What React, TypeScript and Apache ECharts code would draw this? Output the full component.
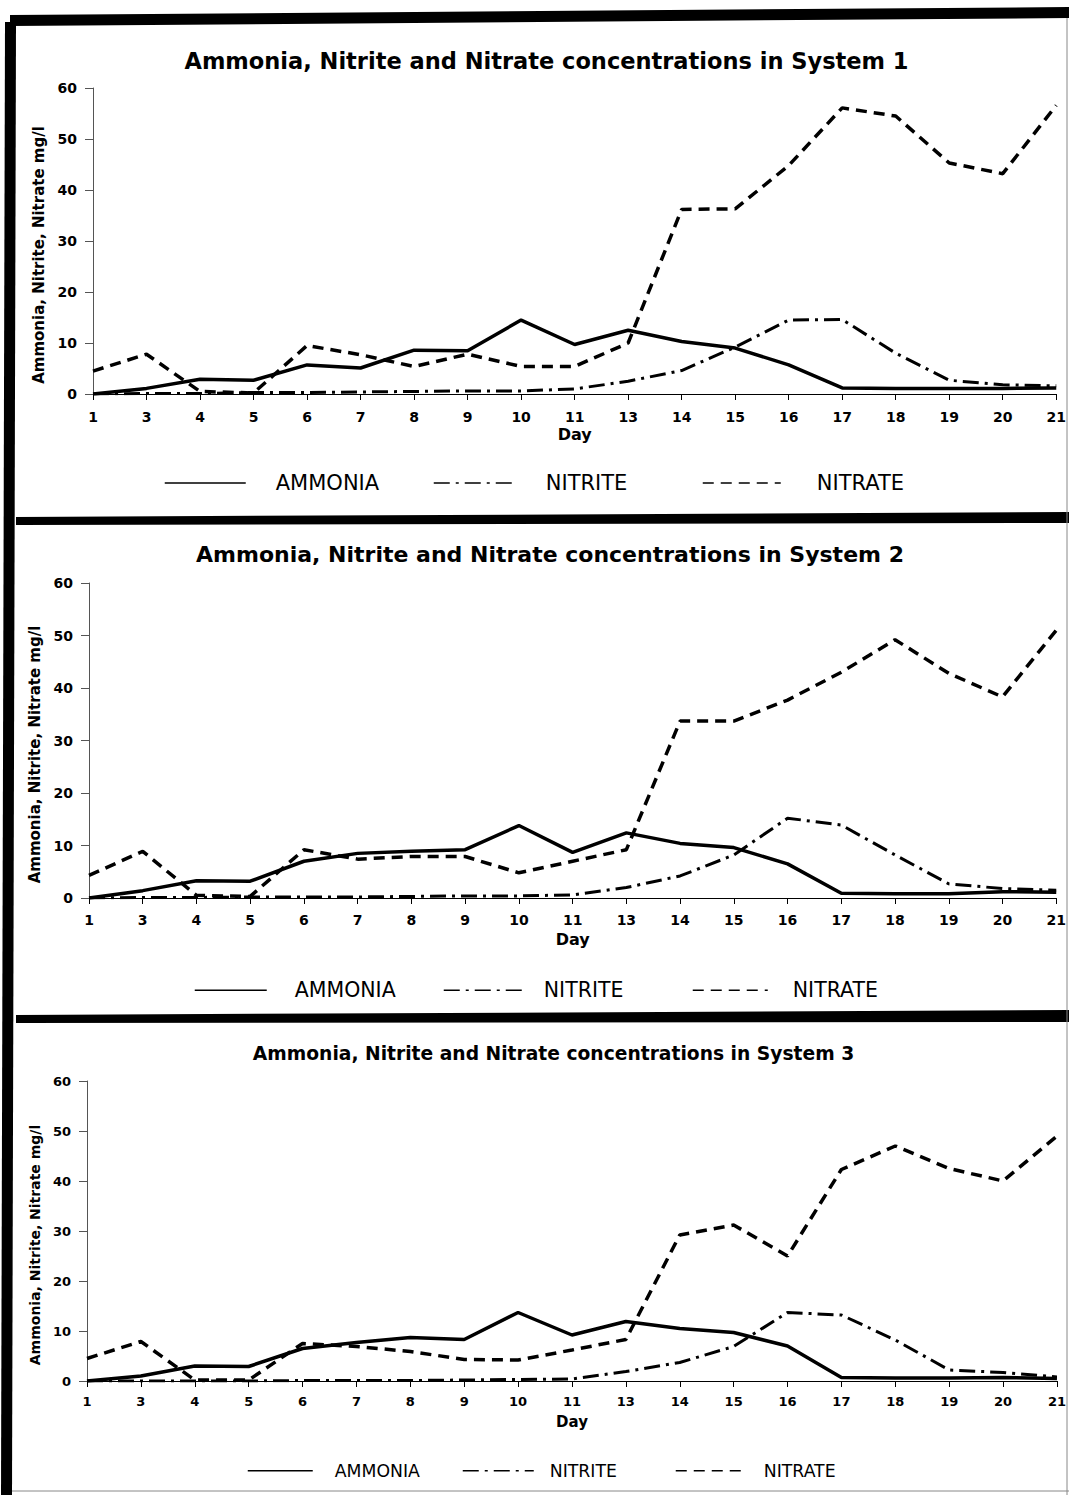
import { useEffect, useRef } from "react";
import * as echarts from "echarts";

// ---------- data ----------
const days = ["1", "3", "4", "5", "6", "7", "8", "9", "10", "11", "13", "14", "15", "16", "17", "18", "19", "20", "21"];
const seriesNames = ["AMMONIA", "NITRITE", "NITRATE"];
const chartTitles = [
  "Ammonia, Nitrite and Nitrate concentrations in System 1",
  "Ammonia, Nitrite and Nitrate concentrations in System 2",
  "Ammonia, Nitrite and Nitrate concentrations in System 3",
];
const yAxisTitle = "Ammonia, Nitrite, Nitrate mg/l";
const xAxisTitle = "Day";
const yMin = 0;
const yMax = 60;
const yStep = 10;

const ammonia1 = [0, 1.1, 2.9, 2.7, 5.7, 5.1, 8.6, 8.5, 14.5, 9.7, 12.5, 10.3, 9.0, 5.7, 1.2, 1.1, 1.1, 1.1, 1.2];
const nitrite1 = [0, 0.1, 0.1, 0.3, 0.3, 0.4, 0.5, 0.6, 0.6, 1.0, 2.5, 4.6, 9.2, 14.5, 14.6, 8.0, 2.7, 1.8, 1.6];
const nitrate1 = [4.5, 7.8, 0.5, 0.2, 9.5, 7.7, 5.4, 7.8, 5.4, 5.4, 10.0, 36.2, 36.3, 44.8, 56.1, 54.5, 45.3, 43.2, 56.6];

const ammonia2 = [0, 1.4, 3.3, 3.2, 7.0, 8.5, 8.9, 9.2, 13.8, 8.7, 12.4, 10.4, 9.6, 6.5, 0.9, 0.8, 0.8, 1.2, 1.1];
const nitrite2 = [0, 0.1, 0.1, 0.2, 0.2, 0.2, 0.3, 0.4, 0.4, 0.6, 2.0, 4.2, 8.2, 15.2, 13.9, 8.2, 2.7, 1.8, 1.5];
const nitrate2 = [4.3, 8.9, 0.5, 0.3, 9.2, 7.4, 7.9, 7.9, 4.8, 7.0, 9.2, 33.7, 33.7, 37.7, 43.0, 49.2, 42.8, 38.3, 51.0];

const ammonia3 = [0, 1.0, 3.0, 2.9, 6.5, 7.7, 8.7, 8.3, 13.7, 9.2, 11.9, 10.5, 9.7, 7.0, 0.7, 0.6, 0.6, 0.7, 0.5];
const nitrite3 = [0, 0, 0, 0, 0.1, 0.1, 0.1, 0.2, 0.3, 0.4, 1.9, 3.7, 6.9, 13.7, 13.2, 8.2, 2.2, 1.7, 0.8];
const nitrate3 = [4.5, 7.9, 0.2, 0.2, 7.5, 6.9, 5.9, 4.3, 4.2, 6.2, 8.3, 29.2, 31.2, 25.0, 42.3, 47.0, 42.5, 40.0, 49.0];

const systems = [
  [ammonia1, nitrite1, nitrate1],
  [ammonia2, nitrite2, nitrate2],
  [ammonia3, nitrite3, nitrate3],
];

// ---------- styles / layout ----------
const FONT = '"DejaVu Sans", Verdana, sans-serif';
const lineDash: any[] = ["solid", [16, 6, 3, 6], [11, 7]];
const lineWidth = [3.5, 3, 3.5];

const layouts = [
  {
    grid: { left: 93, top: 88, width: 972, height: 306 },
    title: { cx: 546.5, cy: 61, size: 22.5 },
    legendY: 485,
    legendFont: 21,
    legend: [
      { icon: [164, 245], text: 275 },
      { icon: [433, 515], text: 545 },
      { icon: [702, 780], text: 816 },
    ],
    tickFont: 14,
    nameFont: 15,
    dayFont: 16,
    xMargin: 16,
    dayGap: 32,
  },
  {
    grid: { left: 89, top: 583, width: 977, height: 315 },
    title: { cx: 550, cy: 554, size: 22 },
    legendY: 992,
    legendFont: 20.5,
    legend: [
      { icon: [194, 266], text: 294 },
      { icon: [443, 525], text: 543 },
      { icon: [692, 767], text: 792 },
    ],
    tickFont: 14,
    nameFont: 15,
    dayFont: 16,
    xMargin: 15,
    dayGap: 33,
  },
  {
    grid: { left: 87, top: 1081, width: 978, height: 300 },
    title: { cx: 553.5, cy: 1053, size: 18.7 },
    legendY: 1473,
    legendFont: 17.3,
    legend: [
      { icon: [247, 312], text: 334 },
      { icon: [462, 533], text: 549 },
      { icon: [675, 740], text: 763 },
    ],
    tickFont: 13,
    nameFont: 14,
    dayFont: 15,
    xMargin: 14,
    dayGap: 33,
  },
];

function buildOption() {
  const grid: any[] = [];
  const xAxis: any[] = [];
  const yAxis: any[] = [];
  const series: any[] = [];
  const title: any[] = [];
  const legend: any[] = [];

  layouts.forEach((L, c) => {
    grid.push({ ...L.grid, containLabel: false });
    title.push({
      text: chartTitles[c],
      left: L.title.cx,
      top: L.title.cy,
      padding: 0,
      textAlign: "center",
      textVerticalAlign: "middle",
      textStyle: { fontFamily: FONT, fontWeight: "bold", fontSize: L.title.size, color: "#000" },
    });
    xAxis.push({
      type: "category",
      gridIndex: c,
      data: days,
      boundaryGap: false,
      name: xAxisTitle,
      nameLocation: "middle",
      nameGap: L.dayGap,
      nameTextStyle: { fontFamily: FONT, fontWeight: "bold", fontSize: L.dayFont, color: "#000" },
      axisLine: { show: true, lineStyle: { color: "#000", width: 1.2 } },
      axisTick: { show: true, length: 6, lineStyle: { color: "#000", width: 1 }, interval: 0 },
      axisLabel: { interval: 0, margin: L.xMargin, fontFamily: FONT, fontWeight: "bold", fontSize: L.tickFont, color: "#000" },
      splitLine: { show: false },
    });
    yAxis.push({
      type: "value",
      gridIndex: c,
      min: yMin,
      max: yMax,
      interval: yStep,
      name: yAxisTitle,
      nameLocation: "middle",
      nameRotate: 90,
      nameGap: 44,
      nameTextStyle: {
        fontFamily: FONT,
        fontWeight: "bold",
        fontSize: L.nameFont,
        color: "#000",
        padding: [0, 28, 0, 0],
      },
      axisLine: { show: true, lineStyle: { color: "#555", width: 1 } },
      axisTick: { show: true, length: 8, lineStyle: { color: "#555", width: 1 } },
      axisLabel: { margin: 16, fontFamily: FONT, fontWeight: "bold", fontSize: L.tickFont, color: "#000" },
      splitLine: { show: false },
    });
    seriesNames.forEach((name, s) => {
      series.push({
        type: "line",
        name,
        xAxisIndex: c,
        yAxisIndex: c,
        data: systems[c][s],
        symbol: "none",
        showSymbol: false,
        z: 3 - s + 2,
        lineStyle: { color: "#000", width: lineWidth[s], type: lineDash[s], cap: "butt" },
        itemStyle: { color: "#000" },
      });
      const item = L.legend[s];
      const ih = L.legendFont + 4;
      legend.push({
        data: [name],
        left: item.icon[0],
        top: L.legendY - ih / 2,
        padding: 0,
        itemWidth: item.icon[1] - item.icon[0],
        itemHeight: ih,
        selectedMode: false,
        lineStyle: { width: 1.5 },
        itemStyle: { color: "rgba(0,0,0,0)", borderWidth: 0, opacity: 0 },
        textStyle: {
          fontFamily: FONT,
          fontSize: L.legendFont,
          color: "#000",
          padding: [0, 0, 0, item.text - item.icon[1] - 5],
        },
      });
    });
  });

  const graphic: any[] = [
    { type: "polygon", shape: { points: [[10, 15], [1069, 7], [1069, 18], [10, 26]] }, style: { fill: "#000" }, silent: true },
    { type: "polygon", shape: { points: [[5, 22], [16, 22], [12, 1495], [1, 1495]] }, style: { fill: "#000" }, silent: true },
    { type: "polygon", shape: { points: [[16, 517], [1069, 512], [1069, 523], [16, 525]] }, style: { fill: "#000" }, silent: true },
    { type: "polygon", shape: { points: [[16, 1015], [1069, 1010], [1069, 1022], [16, 1023]] }, style: { fill: "#000" }, silent: true },
    { type: "line", shape: { x1: 1067, y1: 18, x2: 1067, y2: 1495 }, style: { stroke: "#888", lineWidth: 1 }, silent: true },
    { type: "line", shape: { x1: 12, y1: 1491, x2: 1069, y2: 1491 }, style: { stroke: "#888", lineWidth: 1 }, silent: true },
  ];

  return {
    animation: false,
    backgroundColor: "#fff",
    title,
    legend,
    grid,
    xAxis,
    yAxis,
    series,
    graphic,
  };
}

export default function App() {
  const ref = useRef<HTMLDivElement>(null);
  useEffect(() => {
    if (!ref.current) return;
    const chart = echarts.init(ref.current, undefined, { renderer: "svg" });
    chart.setOption(buildOption() as any);
    return () => chart.dispose();
  }, []);
  return (
    <div
      ref={ref}
      style={{ position: "absolute", left: 0, top: 0, width: 1069, height: 1495, background: "#fff" }}
    />
  );
}
